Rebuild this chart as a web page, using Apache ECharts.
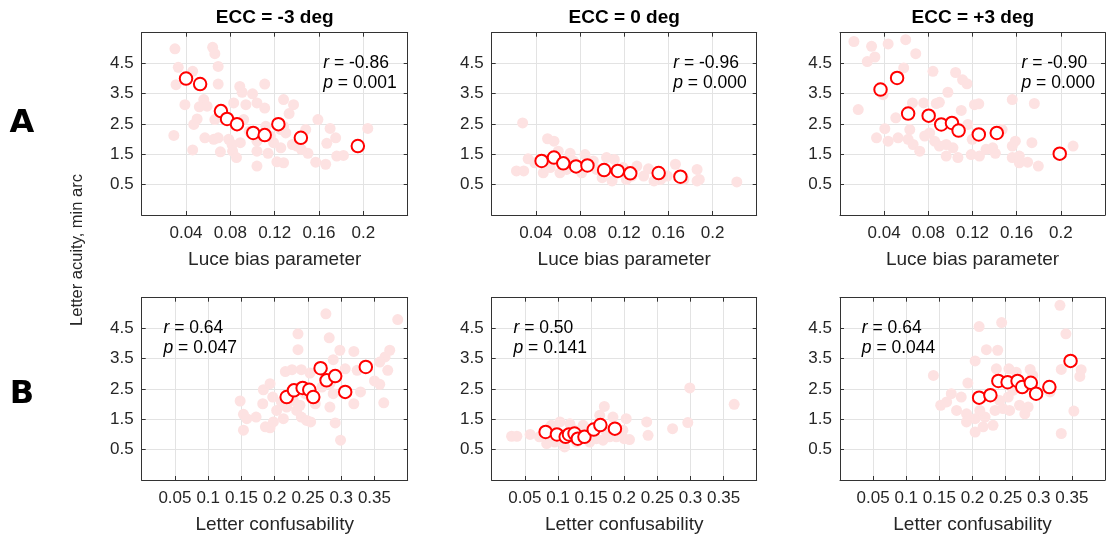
<!DOCTYPE html>
<html>
<head>
<meta charset="utf-8">
<script src="https://cdn.jsdelivr.net/npm/echarts@6/dist/echarts.min.js"></script>
<style>
  html, body { margin: 0; padding: 0; background: #fff; }
  #chart { width: 1108px; height: 540px; }
</style>
</head>
<body>
<div id="chart"></div>
<script>
// ---------------- DATA ----------------
const panelTitles = ['ECC = -3 deg', 'ECC = 0 deg', 'ECC = +3 deg'];
const rowLabels = ['A', 'B'];
const xNameTop = 'Luce bias parameter';
const xNameBottom = 'Letter confusability';
const yName = 'Letter acuity, min arc';

const statsR = ['-0.86', '-0.96', '-0.90', '0.64', '0.50', '0.64'];
const statsP = ['0.001', '0.000', '0.000', '0.047', '0.141', '0.044'];

const yTicks = [0.5, 1.5, 2.5, 3.5, 4.5];
const xTicksTop = [0.04, 0.08, 0.12, 0.16, 0.2];
const xTicksBottom = [0.05, 0.1, 0.15, 0.2, 0.25, 0.3, 0.35];

// Panel A1 (ECC -3, Luce bias)
const cloudA1 = [[0.030,4.97],[0.064,5.02],[0.066,4.81],[0.069,4.39],[0.033,4.36],[0.031,3.79],[0.046,4.23],[0.069,3.81],[0.111,3.81],[0.0885,3.73],[0.0906,3.54],[0.100,3.49],[0.039,3.13],[0.056,3.30],[0.052,3.06],[0.059,3.08],[0.083,3.19],[0.094,3.13],[0.104,3.19],[0.111,3.02],[0.128,3.30],[0.137,3.13],[0.133,2.84],[0.066,2.64],[0.050,2.66],[0.047,2.48],[0.0845,2.48],[0.092,2.64],[0.029,2.12],[0.057,2.04],[0.065,1.99],[0.069,2.04],[0.0785,1.99],[0.0815,1.82],[0.089,1.88],[0.097,2.26],[0.104,1.93],[0.112,2.42],[0.1255,2.31],[0.128,2.42],[0.130,2.20],[0.148,2.31],[0.159,2.64],[0.170,2.35],[0.175,2.04],[0.167,1.86],[0.136,1.82],[0.1255,1.71],[0.119,1.88],[0.116,2.10],[0.046,1.64],[0.071,1.58],[0.082,1.60],[0.0855,1.39],[0.104,1.60],[0.114,1.53],[0.150,1.53],[0.157,1.24],[0.166,1.17],[0.176,1.44],[0.182,1.46],[0.204,2.35],[0.104,1.11],[0.122,1.25],[0.128,1.22],[0.140,1.77],[0.144,1.66]];
const meansA1 = [[0.040,3.99],[0.0527,3.81],[0.0715,2.92],[0.077,2.66],[0.086,2.49],[0.1006,2.20],[0.111,2.13],[0.1233,2.49],[0.1436,2.04],[0.195,1.77]];

// Panel A2 (ECC 0, Luce bias)
const cloudA2 = [[0.028,2.53],[0.0506,2.01],[0.0564,1.93],[0.0603,1.60],[0.033,1.35],[0.0224,0.95],[0.029,0.95],[0.039,1.22],[0.0467,0.89],[0.053,1.06],[0.0618,0.89],[0.071,1.53],[0.074,1.28],[0.0845,1.49],[0.0815,0.89],[0.092,1.28],[0.095,1.00],[0.104,1.39],[0.111,1.33],[0.100,0.73],[0.109,0.62],[0.119,1.06],[0.122,0.67],[0.1315,1.11],[0.1376,0.78],[0.142,1.02],[0.147,0.62],[0.159,0.78],[0.1664,1.17],[0.174,0.67],[0.186,1.00],[0.186,0.62],[0.188,0.67],[0.222,0.59],[0.0679,1.00],[0.089,1.11],[0.127,0.78],[0.153,0.67]];
const meansA2 = [[0.0452,1.28],[0.0564,1.39],[0.0648,1.20],[0.0764,1.10],[0.0867,1.13],[0.1018,0.98],[0.1142,0.95],[0.1255,0.87],[0.1512,0.88],[0.1709,0.76]];

// Panel A3 (ECC +3, Luce bias)
const cloudA3 = [[0.0126,5.21],[0.0286,5.05],[0.0436,5.13],[0.0595,5.27],[0.0686,4.81],[0.0247,4.55],[0.0316,4.70],[0.0577,4.34],[0.0842,4.23],[0.1047,4.19],[0.111,3.95],[0.115,3.82],[0.0977,3.54],[0.039,3.46],[0.0656,3.19],[0.0758,3.19],[0.0872,3.17],[0.090,3.21],[0.1218,3.13],[0.1257,3.16],[0.156,3.30],[0.176,3.17],[0.0165,2.97],[0.1098,2.94],[0.0505,2.70],[0.0406,2.34],[0.0331,2.04],[0.0436,1.93],[0.0526,2.04],[0.0632,2.31],[0.0617,1.99],[0.0662,1.82],[0.0722,1.60],[0.0767,2.10],[0.0857,1.93],[0.090,1.77],[0.0962,1.44],[0.1023,1.71],[0.1068,1.39],[0.1158,2.48],[0.1197,1.99],[0.1188,1.49],[0.1263,1.44],[0.1323,1.66],[0.1383,1.71],[0.1407,1.53],[0.1468,2.31],[0.156,1.77],[0.1588,1.93],[0.156,1.39],[0.1624,1.44],[0.1624,1.22],[0.1699,1.24],[0.1738,1.88],[0.1796,1.11],[0.2111,1.77],[0.0962,1.82],[0.0812,2.20]];
const meansA3 = [[0.0367,3.63],[0.0517,4.01],[0.0617,2.84],[0.0803,2.77],[0.0917,2.48],[0.1014,2.53],[0.1074,2.28],[0.1257,2.15],[0.142,2.20],[0.199,1.52]];

// Panel B1 (ECC -3, confusability)
const cloudB1 = [[0.277,4.97],[0.385,4.78],[0.235,4.31],[0.282,4.18],[0.235,3.79],[0.298,3.77],[0.319,3.73],[0.373,3.77],[0.366,3.55],[0.358,3.38],[0.288,3.46],[0.306,3.16],[0.216,3.07],[0.226,3.13],[0.240,3.13],[0.253,3.02],[0.324,3.11],[0.370,3.11],[0.350,2.76],[0.358,2.65],[0.329,2.40],[0.319,2.01],[0.364,2.04],[0.283,1.90],[0.291,1.38],[0.299,0.81],[0.148,2.10],[0.183,2.47],[0.193,2.67],[0.182,2.01],[0.197,2.23],[0.210,2.07],[0.203,1.79],[0.213,1.52],[0.218,1.90],[0.153,1.66],[0.158,1.52],[0.172,1.57],[0.153,1.14],[0.186,1.25],[0.193,1.22],[0.198,1.41],[0.233,1.79],[0.240,1.57],[0.248,1.46],[0.254,1.41],[0.238,1.96],[0.261,2.01],[0.271,2.56],[0.288,2.34],[0.283,2.67],[0.246,2.34],[0.228,2.12]];
const meansB1 = [[0.218,2.23],[0.229,2.45],[0.242,2.53],[0.252,2.47],[0.258,2.23],[0.269,3.18],[0.278,2.78],[0.291,2.92],[0.306,2.40],[0.337,3.22]];

// Panel B2 (ECC 0, confusability)
const cloudB2 = [[0.299,2.53],[0.366,1.99],[0.170,1.92],[0.183,1.57],[0.203,1.52],[0.234,1.41],[0.236,0.97],[0.273,1.19],[0.296,1.39],[0.208,0.83],[0.030,0.94],[0.038,0.94],[0.058,1.00],[0.072,0.92],[0.083,0.70],[0.090,1.30],[0.103,1.41],[0.110,0.59],[0.118,1.35],[0.128,0.75],[0.138,1.30],[0.148,0.75],[0.158,0.86],[0.168,0.81],[0.178,0.92],[0.198,1.14],[0.200,0.86],[0.163,1.63],[0.088,0.92],[0.095,0.75],[0.105,0.81],[0.123,1.16],[0.143,1.03],[0.173,1.08],[0.188,0.92]];
const meansB2 = [[0.0814,1.08],[0.0985,1.00],[0.1116,0.92],[0.1166,1.00],[0.125,1.03],[0.130,0.86],[0.140,0.92],[0.154,1.16],[0.164,1.31],[0.186,1.19]];

// Panel B3 (ECC +3, confusability)
const cloudB3 = [[0.332,5.25],[0.244,4.68],[0.210,4.55],[0.341,4.31],[0.221,3.79],[0.238,3.77],[0.204,3.42],[0.141,2.94],[0.193,2.69],[0.236,3.16],[0.255,3.16],[0.266,3.05],[0.287,3.14],[0.291,2.94],[0.334,3.14],[0.364,3.13],[0.362,2.91],[0.317,2.40],[0.353,1.77],[0.334,1.03],[0.152,1.96],[0.161,2.07],[0.168,2.34],[0.183,2.23],[0.176,1.79],[0.191,1.68],[0.191,1.41],[0.204,1.52],[0.204,1.08],[0.216,1.25],[0.219,1.57],[0.231,1.30],[0.234,1.79],[0.246,1.85],[0.256,1.79],[0.271,1.96],[0.279,1.68],[0.284,1.90],[0.261,2.45],[0.254,2.23],[0.241,2.12],[0.211,1.79]];
const meansB3 = [[0.210,2.21],[0.227,2.29],[0.239,2.76],[0.253,2.72],[0.268,2.76],[0.275,2.56],[0.288,2.70],[0.296,2.34],[0.316,2.56],[0.348,3.42]];

const clouds = [cloudA1, cloudA2, cloudA3, cloudB1, cloudB2, cloudB3];
const means = [meansA1, meansA2, meansA3, meansB1, meansB2, meansB3];

// ---------------- LAYOUT / STYLE ----------------
const colLeft = [141.7, 491.7, 840];
const colWidth = [266, 265, 265.7];
const rowTop = [32.7, 297.7];
const plotH = 182.3;
const FONT = '"Liberation Sans", Arial, Helvetica, sans-serif';
const TXT = '#262626';
const AXC = '#333333';
const GRIDC = '#e3e3e3';
const CLOUDC = '#fde2e2';
const MEANC = '#ff0000';

const chart = echarts.init(document.getElementById('chart'), null, {renderer: 'canvas'});

function fmt(v) { return String(parseFloat(v.toFixed(3))); }

const grids = [], xAxes = [], yAxes = [], series = [], graphics = [];

for (let r = 0; r < 2; r++) {
  for (let c = 0; c < 3; c++) {
    const i = r * 3 + c;
    grids.push({left: colLeft[c], top: rowTop[r], width: colWidth[c], height: plotH, containLabel: false});
    const xmax = r === 0 ? 0.24 : 0.4;
    const xint = r === 0 ? 0.04 : 0.05;
    const xTicks = r === 0 ? xTicksTop : xTicksBottom;
    const baseX = {
      gridIndex: i, type: 'value', min: 0, max: xmax, interval: xint,
      axisLine: {show: true, onZero: false, lineStyle: {color: AXC, width: 1}},
      axisTick: {show: true, inside: true, length: 4, lineStyle: {color: AXC}},
      splitLine: {show: false},
      axisLabel: {show: false}
    };
    xAxes.push(Object.assign({}, baseX, {
      position: 'bottom',
      name: r === 0 ? xNameTop : xNameBottom,
      nameLocation: 'middle', nameGap: 35,
      nameTextStyle: {fontFamily: FONT, fontSize: 19, color: TXT},
      splitLine: {show: true, lineStyle: {color: GRIDC, width: 1}},
      axisLabel: {
        show: true, margin: 10, fontFamily: FONT, fontSize: 17, color: TXT,
        hideOverlap: false, interval: 0,
        formatter: v => xTicks.some(t => Math.abs(t - v) < 1e-6) ? fmt(v) : ''
      }
    }));
    xAxes.push(Object.assign({}, baseX, {position: 'top'}));
    const baseY = {
      gridIndex: i, type: 'value', min: -0.5, max: 5.5, interval: 1,
      axisLine: {show: true, onZero: false, lineStyle: {color: AXC, width: 1}},
      axisTick: {show: true, inside: true, length: 4, lineStyle: {color: AXC}},
      splitLine: {show: false},
      axisLabel: {show: false}
    };
    yAxes.push(Object.assign({}, baseY, {
      position: 'left',
      splitLine: {show: true, lineStyle: {color: GRIDC, width: 1}},
      axisLabel: {
        show: true, margin: 8, fontFamily: FONT, fontSize: 17, color: TXT,
        formatter: v => yTicks.some(t => Math.abs(t - v) < 1e-6) ? fmt(v) : ''
      }
    }));
    yAxes.push(Object.assign({}, baseY, {position: 'right'}));

    series.push({
      type: 'scatter', xAxisIndex: i * 2, yAxisIndex: i * 2,
      data: clouds[i], symbol: 'circle', symbolSize: 11,
      itemStyle: {color: CLOUDC, opacity: 1}, silent: true, z: 2
    });
    series.push({
      type: 'scatter', xAxisIndex: i * 2, yAxisIndex: i * 2,
      data: means[i], symbol: 'circle', symbolSize: 12.5,
      itemStyle: {color: '#ffffff', borderColor: MEANC, borderWidth: 2, opacity: 1}, silent: true, z: 3
    });

    // stats annotation
    const ax = r === 0 ? colLeft[c] + 181.5 : colLeft[c] + 21.8;
    const ay = rowTop[r] + 30;
    const rich = {i: {fontStyle: 'italic', fontSize: 17.5, fontFamily: FONT, fill: '#000'}};
    graphics.push({
      type: 'text', x: ax, y: ay, z: 10,
      style: {text: '{i|r} = ' + statsR[i], fill: '#000', font: '17.5px ' + FONT,
        verticalAlign: 'middle', align: 'left', rich: rich}
    });
    graphics.push({
      type: 'text', x: ax, y: ay + 20, z: 10,
      style: {text: '{i|p} = ' + statsP[i], fill: '#000', font: '17.5px ' + FONT,
        verticalAlign: 'middle', align: 'left', rich: rich}
    });
  }
}

// column titles
for (let c = 0; c < 3; c++) {
  graphics.push({
    type: 'text', x: colLeft[c] + colWidth[c] / 2, y: 18, z: 10,
    style: {text: panelTitles[c], fill: '#000', font: 'bold 19px ' + FONT, align: 'center', verticalAlign: 'middle'}
  });
}
// row labels
const rowLabelY = [124, 395];
for (let r = 0; r < 2; r++) {
  graphics.push({
    type: 'text', x: 22, y: rowLabelY[r], z: 10,
    style: {text: rowLabels[r], fill: '#000', font: 'bold 32px "DejaVu Sans", sans-serif', align: 'center', verticalAlign: 'middle'}
  });
}
// y axis name
graphics.push({
  type: 'text', x: 77, y: 250, rotation: Math.PI / 2, z: 10,
  style: {text: yName, fill: TXT, font: '16.5px ' + FONT, align: 'center', verticalAlign: 'middle'}
});

chart.setOption({
  animation: false,
  backgroundColor: '#ffffff',
  grid: grids,
  xAxis: xAxes,
  yAxis: yAxes,
  series: series,
  graphic: graphics
});
</script>
</body>
</html>
